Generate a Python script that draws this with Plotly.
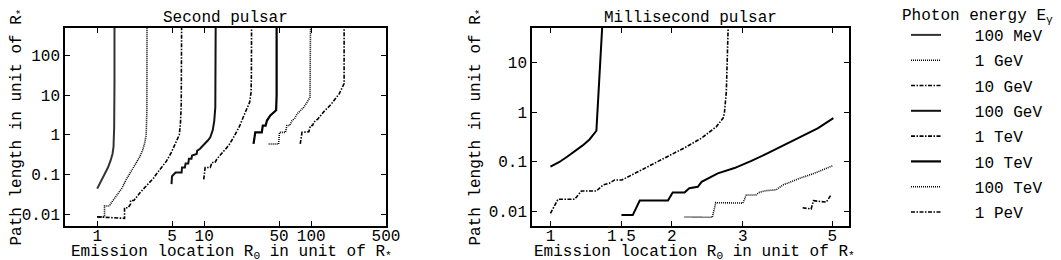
import plotly.graph_objects as go

# ---------------- data ----------------
energies = ["100 MeV", "1 GeV", "10 GeV", "100 GeV", "1 TeV", "10 TeV", "100 TeV", "1 PeV"]

# Second pulsar (left panel): emission location R0 and path length
sp_100MeV_R = [1.00, 1.08, 1.17, 1.26, 1.33, 1.39, 1.42, 1.44, 1.45, 1.45]
sp_100MeV_L = [0.044, 0.065, 0.10, 0.15, 0.22, 0.33, 0.5, 1.5, 20, 600]
sp_1GeV_R = [1.0, 1.17, 1.17, 1.30, 1.35, 1.42, 1.50, 1.60, 1.70, 1.87, 2.0, 2.16, 2.35, 2.50, 2.65, 2.78, 2.87, 2.91, 2.92]
sp_1GeV_L = [0.0085, 0.0085, 0.016, 0.016, 0.019, 0.023, 0.029, 0.036, 0.045, 0.075, 0.10, 0.14, 0.2, 0.28, 0.4, 0.62, 1.0, 4, 600]
sp_10GeV_R = [1.0, 1.8, 1.8, 1.95, 2.05, 2.05, 2.2, 2.35, 2.5, 2.7, 2.9, 3.1, 3.35, 3.6, 4.0, 4.45, 4.9, 5.3, 5.65, 5.85, 6.0, 6.1, 6.15]
sp_10GeV_L = [0.0085, 0.0078, 0.0145, 0.0145, 0.018, 0.022, 0.022, 0.028, 0.034, 0.043, 0.052, 0.064, 0.08, 0.105, 0.15, 0.22, 0.35, 0.55, 0.75, 1.0, 2.0, 6, 600]
sp_100GeV_R = [4.95, 5.0, 5.4, 6.15, 6.2, 6.6, 6.7, 7.1, 7.2, 7.6, 7.7, 8.5, 8.6, 9.1, 9.5, 10.2, 10.8, 11.4, 12.0, 12.4, 12.7, 12.8]
sp_100GeV_L = [0.057, 0.09, 0.112, 0.112, 0.15, 0.15, 0.19, 0.19, 0.25, 0.25, 0.3, 0.33, 0.4, 0.44, 0.5, 0.6, 0.72, 0.87, 1.3, 2.2, 5, 600]
sp_1TeV_R = [9.9, 10.2, 11.4, 11.8, 12.6, 13.2, 14.0, 15.5, 17.0, 18.5, 20.0, 21.5, 23.4, 25.0, 26.6, 27.4, 27.6, 27.7]
sp_1TeV_L = [0.075, 0.15, 0.15, 0.2, 0.2, 0.25, 0.3, 0.4, 0.55, 0.8, 1.15, 1.7, 3.0, 4.5, 6.7, 12, 30, 600]
sp_10TeV_R = [28.9, 30.0, 34.5, 35.3, 37.5, 38.6, 41.5, 45.0, 47.0, 47.5, 47.5]
sp_10TeV_L = [0.59, 1.16, 1.16, 1.72, 1.72, 2.3, 3.1, 3.9, 4.2, 10, 600]
sp_100TeV_R = [40.0, 49.6, 50.5, 57.5, 59.3, 63, 66.3, 70, 73.9, 80, 85.3, 92, 97.4, 98.5]
sp_100TeV_L = [0.59, 0.59, 1.16, 1.16, 1.72, 1.72, 2.3, 2.6, 3.4, 4.2, 5.0, 6.8, 9.0, 600]
sp_1PeV_R = [79.0, 82, 95, 98.5, 103, 106, 115, 122, 135, 150, 165, 183, 203, 203]
sp_1PeV_L = [0.59, 1.16, 1.2, 1.72, 1.72, 2.1, 2.5, 3.1, 4.2, 5.5, 7.5, 11, 19.7, 600]

# Millisecond pulsar (right panel)
ms_100MeV_R = [1.0, 1.05, 1.10, 1.15, 1.20, 1.25, 1.30, 1.345]
ms_100MeV_L = [0.079, 0.097, 0.125, 0.16, 0.21, 0.28, 0.42, 60]
ms_1GeV_R = [1.0, 1.044, 1.149, 1.193, 1.30, 1.35, 1.40, 1.443, 1.505, 1.618, 1.78, 1.956, 2.15, 2.37, 2.58, 2.68, 2.70, 2.73, 2.76]
ms_1GeV_L = [0.009, 0.0174, 0.0174, 0.0255, 0.0255, 0.0337, 0.0365, 0.0426, 0.0426, 0.058, 0.086, 0.126, 0.19, 0.298, 0.51, 0.756, 0.95, 2.6, 60]
ms_10GeV_R = [1.50, 1.60, 1.665, 1.956, 2.01, 2.15, 2.21, 2.32, 2.37, 2.45, 2.60, 2.86, 3.15, 3.46, 3.81, 4.19, 4.61, 5.03]
ms_10GeV_L = [0.0083, 0.0083, 0.0163, 0.0163, 0.0237, 0.0237, 0.029, 0.031, 0.039, 0.045, 0.058, 0.074, 0.103, 0.148, 0.218, 0.32, 0.474, 0.756]
ms_100GeV_R = [2.15, 2.52, 2.57, 3.0, 3.06, 3.23, 3.30, 3.43, 3.63, 3.77, 4.15, 4.56, 5.0]
ms_100GeV_L = [0.0076, 0.0075, 0.0148, 0.0145, 0.0212, 0.0212, 0.024, 0.0259, 0.027, 0.0337, 0.0459, 0.06, 0.082]
ms_1TeV_R = [4.22, 4.43, 4.49, 4.83, 4.95]
ms_1TeV_L = [0.0117, 0.011, 0.0162, 0.0152, 0.0205]

left_xticks = [1, 5, 10, 50, 100, 500]
left_yticks = [0.01, 0.1, 1, 10, 100]
right_xticks = [1, 1.5, 2, 3, 5]
right_yticks = [0.01, 0.1, 1, 10]

# ---------------- styles ----------------
FONT = "Liberation Mono"
DOT = "1px,1px"
DASHDOT = "4px,1.5px,1.5px,1.5px"
styles = {
    "100 MeV": ("solid", 2.0, "#333"),
    "1 GeV": (DOT, 1.6, "#000"),
    "10 GeV": (DASHDOT, 1.6, "#000"),
    "100 GeV": ("solid", 2.0, "#111"),
    "1 TeV": (DASHDOT, 1.6, "#000"),
    "10 TeV": ("solid", 2.2, "#000"),
    "100 TeV": (DOT, 1.6, "#000"),
    "1 PeV": (DASHDOT, 1.6, "#000"),
}

left_series = [
    (sp_100MeV_R, sp_100MeV_L), (sp_1GeV_R, sp_1GeV_L), (sp_10GeV_R, sp_10GeV_L),
    (sp_100GeV_R, sp_100GeV_L), (sp_1TeV_R, sp_1TeV_L), (sp_10TeV_R, sp_10TeV_L),
    (sp_100TeV_R, sp_100TeV_L), (sp_1PeV_R, sp_1PeV_L),
]
right_series = [
    ("100 MeV", "solid", ms_100MeV_R, ms_100MeV_L),
    ("1 GeV", DASHDOT, ms_1GeV_R, ms_1GeV_L),
    ("10 GeV", "solid", ms_10GeV_R, ms_10GeV_L),
    ("100 GeV", DOT, ms_100GeV_R, ms_100GeV_L),
    ("1 TeV", DASHDOT, ms_1TeV_R, ms_1TeV_L),
]

fig = go.Figure()
for name, (xs, ys) in zip(energies, left_series):
    dash, w, c = styles[name]
    fig.add_trace(go.Scatter(
        x=xs, y=ys, mode="lines", name="\u00a0\u00a0\u00a0" + name, legendgroup=name,
        line=dict(color=c, width=w, dash=dash), xaxis="x", yaxis="y"))
for name, dash, xs, ys in right_series:
    w = 2.0 if dash == "solid" else 1.6
    fig.add_trace(go.Scatter(
        x=xs, y=ys, mode="lines", name=name, legendgroup=name, showlegend=False,
        line=dict(color="#000", width=w, dash=dash), xaxis="x2", yaxis="y2"))

# the page body keeps an 8 px margin, so the figure is 8 px smaller and all
# page positions below are shifted by that amount
OFF = 8
W, H = 1061 - OFF, 260 - OFF
def px(x):
    return (x - OFF) / W
def py(y):
    return 1 - (y - OFF) / H
def dx(a, b):
    return [px(a), px(b)]
def dy(top, bottom):
    return [py(bottom), py(top)]

axis_common = dict(
    type="log", showgrid=False, zeroline=False, showline=True, linecolor="#000",
    linewidth=1.5, mirror="allticks", ticks="inside", ticklen=5, tickcolor="#000",
    tickwidth=1, tickfont=dict(family=FONT, size=16, color="#000"),
    tickmode="array", automargin=False,
)
xtitle = "Emission location R<sub>0</sub> in unit of R<sub>*</sub>"
ytitle = "Path length in unit of R<sub>*</sub>"

def ann(text, xpx, ypx, xanchor="center"):
    return dict(text=text, x=px(xpx), y=py(ypx), xref="paper", yref="paper",
                showarrow=False, xanchor=xanchor, yanchor="middle",
                font=dict(family=FONT, size=16, color="#000"))

fig.update_layout(
    template="none",
    width=W, height=H, margin=dict(l=0, r=0, t=0, b=0, pad=0),
    paper_bgcolor="white", plot_bgcolor="white",
    font=dict(family=FONT, size=16, color="#000"),
    xaxis=dict(axis_common, domain=dx(65, 386), range=[-0.30103, 2.69897],
               tickvals=left_xticks, ticktext=[str(v) for v in left_xticks],
               ticklabelstandoff=-6, anchor="y"),
    yaxis=dict(axis_common, domain=dy(28, 226), range=[-2.30103, 2.69897],
               tickvals=left_yticks, ticktext=["0.01", "0.1", "1", "10", "100"],
               title=dict(text=ytitle, standoff=20, font=dict(family=FONT, size=16)), anchor="x"),
    xaxis2=dict(axis_common, domain=dx(532, 849), range=[-0.045757, 0.740363],
                tickvals=right_xticks, ticktext=["1", "1.5", "2", "3", "5"],
                ticklabelstandoff=-6, anchor="y2"),
    yaxis2=dict(axis_common, domain=dy(28, 226), range=[-2.30103, 1.69897],
                tickvals=right_yticks, ticktext=["0.01", "0.1", "1", "10"],
                title=dict(text=ytitle, standoff=4, font=dict(family=FONT, size=16)), anchor="x2"),
    legend=dict(x=px(906), xanchor="left", y=py(18), yanchor="top", maxheight=300,
                font=dict(family=FONT, size=16, color="#000"),
                tracegroupgap=1.5, bgcolor="rgba(0,0,0,0)", borderwidth=0),
    annotations=[
        ann("Second pulsar", 225.5, 18),
        ann("Millisecond pulsar", 690.5, 18),
        ann(xtitle, 231, 252),
        ann(xtitle, 694, 252),
        ann("Photon energy E<sub>\u03b3</sub>", 900, 17, xanchor="left"),
    ],
)

fig.write_html("out.html")
